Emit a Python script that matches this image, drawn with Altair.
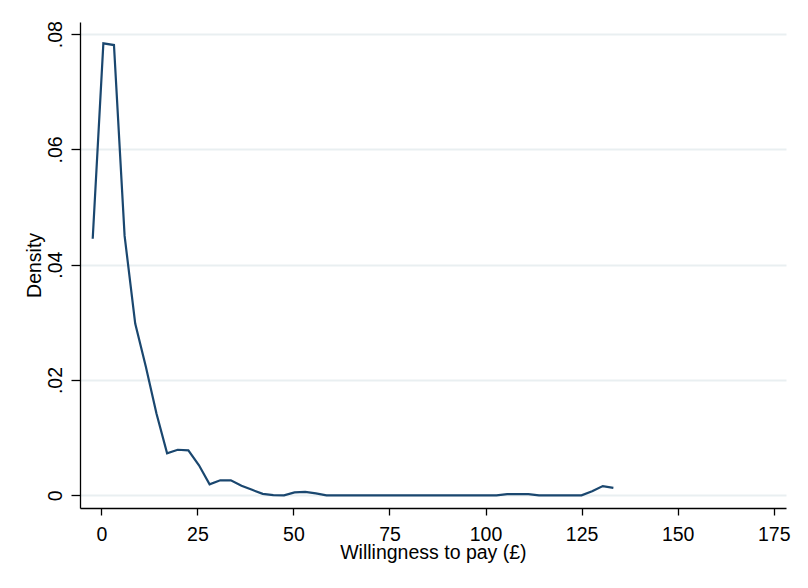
import altair as alt
import pandas as pd

# Kernel density estimate of willingness to pay
wtp = [-2.24, 0.53, 3.29, 6.06, 8.82, 11.59, 14.35, 17.12, 19.88, 22.65,
       25.42, 28.18, 30.95, 33.71, 36.48, 39.24, 42.01, 44.77, 47.54, 50.30,
       53.07, 55.84, 58.60, 61.37, 64.13, 66.90, 69.67, 72.43, 75.20, 77.96,
       80.73, 83.49, 86.26, 89.02, 91.79, 94.56, 97.32, 100.09, 102.85, 105.62,
       108.38, 111.15, 113.92, 116.68, 119.45, 122.21, 124.98, 127.74, 130.51, 133.27]
density = [0.0445, 0.0784, 0.0781, 0.0450, 0.0298, 0.0223, 0.0142, 0.0073, 0.0079, 0.0078,
           0.0052, 0.0019, 0.0026, 0.0026, 0.00165, 0.00095, 0.00026, 0.00005, 0.0, 0.0005,
           0.0006, 0.00035, 0.0, 0.0, 0.0, 0.0, 0.0, 0.0, 0.0, 0.0,
           0.0, 0.0, 0.0, 0.0, 0.0, 0.0, 0.0, 0.0, 0.0, 0.0002,
           0.0002, 0.0002, 0.0, 0.0, 0.0, 0.0, 0.0, 0.0007, 0.0016, 0.0013]

x_ticks = [0, 25, 50, 75, 100, 125, 150, 175]
y_ticks = [0, 0.02, 0.04, 0.06, 0.08]

df = pd.DataFrame({"wtp": wtp, "density": density})

FONT = "Liberation Sans"
FS = 19.5

chart = alt.Chart(df).mark_line(color="#1a476f", strokeWidth=2.2).encode(
    x=alt.X("wtp:Q",
            scale=alt.Scale(domain=[-5.55, 178.2], nice=False, zero=False),
            axis=alt.Axis(values=x_ticks, title="Willingness to pay (£)",
                          grid=False, tickSize=7, labelPadding=10.5,
                          titleX=352.9, titleY=50, titleAlign="center",
                          titleBaseline="alphabetic")),
    y=alt.Y("density:Q",
            scale=alt.Scale(domain=[-0.0022, 0.0821], nice=False, zero=False),
            axis=alt.Axis(values=y_ticks, title="Density",
                          grid=True, gridColor="#e9eff1", gridWidth=2,
                          tickSize=9, labelPadding=10,
                          labelAngle=270, labelAlign="center",
                          labelBaseline="alphabetic",
                          labelExpr="datum.value == 0 ? '0' : replace(format(datum.value, '.2f'), '0.', '.')",
                          titleAngle=270, titleX=-40, titleY=242.9,
                          titleAlign="center", titleBaseline="alphabetic")),
).properties(
    width=706,
    height=486,
    autosize=alt.AutoSizeParams(type="none"),
    padding={"left": 72, "top": 14, "right": 14, "bottom": 72},
    background="white",
).configure_view(
    stroke=None
).configure_axis(
    domainColor="black", domainWidth=1.3,
    tickColor="black", tickWidth=1.3,
    labelFont=FONT, labelFontSize=FS, labelColor="black",
    titleFont=FONT, titleFontSize=FS, titleColor="black",
    titleFontWeight="normal",
)

chart.save("out.html", embed_options={"renderer": "svg", "actions": False})
